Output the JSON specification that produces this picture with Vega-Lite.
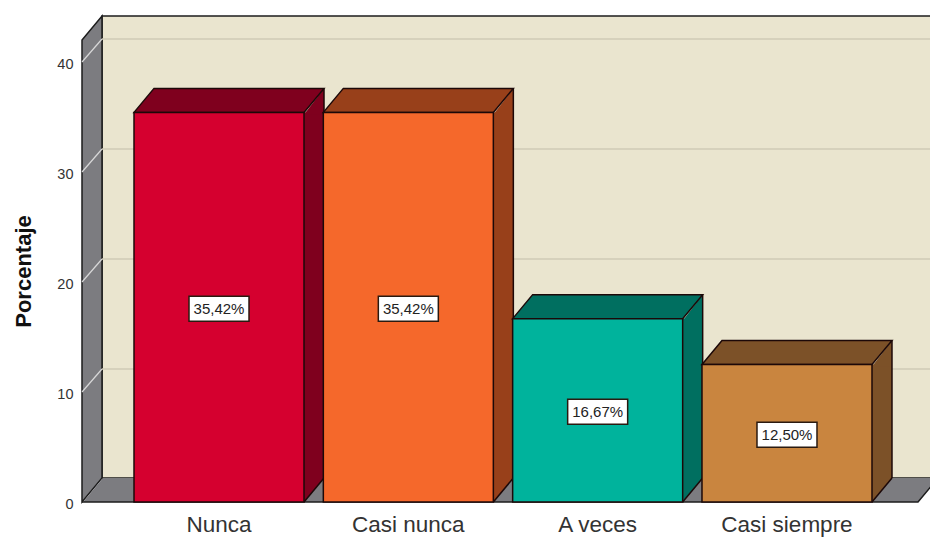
{
"$schema":"https://vega.github.io/schema/vega-lite/v6.json",
"width":836,"height":462,
"autosize":{"type":"none"},
"padding":{"left":82,"top":40,"right":12,"bottom":36},
"background":"white",
"config":{"view":{"stroke":null},"font":"Liberation Sans"},
"datasets":{
"bars":[
{"categoria":"Nunca","porcentaje":35.42,"etiqueta":"35,42%"},
{"categoria":"Casi nunca","porcentaje":35.42,"etiqueta":"35,42%"},
{"categoria":"A veces","porcentaje":16.67,"etiqueta":"16,67%"},
{"categoria":"Casi siempre","porcentaje":12.5,"etiqueta":"12,50%"}
],
"base":[{"nivel":0}],
"rejilla":[{"nivel":10},{"nivel":20},{"nivel":30},{"nivel":40}]
},
"data":{"name":"bars"},
"transform":[{"calculate":"datum.porcentaje/2","as":"medio"}],
"layer":[
{"data":{"name":"base"},
 "mark":{"type":"point","filled":true,"opacity":1,"size":4,"fill":"#EAE5CF","stroke":"#1c1c1c","strokeWidth":1.5,"shape":"M20 -24 L860 -24 L860 -486 L20 -486 Z"},
 "encoding":{"x":{"value":0},"y":{"field":"nivel","type":"quantitative","scale":{"domain":[0,42],"nice":false,"zero":false},"axis":{"values":[0,10,20,30,40],"title":"Porcentaje","titleFontSize":22,"titleFontWeight":"bold","titleColor":"#111","titlePadding":21,"labelFontSize":14.5,"labelColor":"#333","labelPadding":9,"labelOffset":2.5,"ticks":false,"domain":false,"grid":false,"labelOverlap":false}}}},
{"data":{"name":"base"},
 "mark":{"type":"point","filled":true,"opacity":1,"size":4,"fill":"#7C7C80","stroke":"#1c1c1c","strokeWidth":1.5,"shape":"M0 0 L20 -24 L20 -486 L0 -462 Z"},
 "encoding":{"x":{"value":0},"y":{"field":"nivel","type":"quantitative"}}},
{"data":{"name":"base"},
 "mark":{"type":"point","filled":true,"opacity":1,"size":4,"fill":"#7C7C80","strokeWidth":0,"shape":"M1 0 L21 -24 L856 -24 L836 0 Z"},
 "encoding":{"x":{"value":0},"y":{"field":"nivel","type":"quantitative"}}},
{"data":{"name":"base"},
 "mark":{"type":"point","filled":false,"opacity":1,"size":4,"stroke":"#1c1c1c","strokeWidth":1.5,"shape":"M0 0 L836 0 L856 -24"},
 "encoding":{"x":{"value":0},"y":{"field":"nivel","type":"quantitative"}}},
{"data":{"name":"rejilla"},
 "mark":{"type":"point","filled":false,"opacity":1,"size":4,"stroke":"#CFCAB6","strokeWidth":1.6,"shape":"M20 -23 L860 -23"},
 "encoding":{"x":{"value":0},"y":{"field":"nivel","type":"quantitative"}}},
{"data":{"name":"rejilla"},
 "mark":{"type":"point","filled":false,"opacity":1,"size":4,"stroke":"#D8D8D8","strokeWidth":1.2,"shape":"M0 0 L20 -23"},
 "encoding":{"x":{"value":0},"y":{"field":"nivel","type":"quantitative"}}},
{"mark":{"type":"bar","width":20,"xOffset":95,"y2Offset":-24},
 "encoding":{
  "x":{"field":"categoria","type":"nominal","sort":null,"scale":{"type":"band","range":[52,790],"paddingInner":0.102,"paddingOuter":0},"axis":{"title":null,"labelAngle":0,"labelFontSize":22.5,"labelColor":"#333","labelPadding":11,"ticks":false,"domain":false,"grid":false}},
  "y":{"field":"porcentaje","type":"quantitative"},
  "y2":{"datum":0},
  "fill":{"field":"categoria","type":"nominal","sort":null,"legend":null,"scale":{"domain":["Nunca","Casi nunca","A veces","Casi siempre"],"range":["#7F001E","#98401A","#006F60","#7C5128"]}}}},
{"mark":{"type":"point","filled":true,"opacity":1,"size":4,"strokeWidth":0,"shape":"M85 2 L105 -24 L105 2 Z"},
 "encoding":{"x":{"field":"categoria","type":"nominal","sort":null},"y":{"field":"porcentaje","type":"quantitative"},"fill":{"field":"categoria","type":"nominal","sort":null,"legend":null}}},
{"mark":{"type":"point","filled":true,"opacity":1,"size":4,"strokeWidth":0,"shape":"M85 0 L105 -24 L105 -26 L85 -26 Z"},
 "encoding":{"x":{"field":"categoria","type":"nominal","sort":null},"y":{"datum":0},"fill":{"field":"categoria","type":"nominal","sort":null,"legend":null}}},
{"mark":{"type":"point","filled":false,"opacity":1,"size":4,"stroke":"#1c0808","strokeWidth":1.5,"shape":"M85 0 L105 -24"},
 "encoding":{"x":{"field":"categoria","type":"nominal","sort":null},"y":{"datum":0}}},
{"mark":{"type":"rule","color":"#1c0808","strokeWidth":1.5,"xOffset":105,"yOffset":-24,"y2Offset":-24},
 "encoding":{"x":{"field":"categoria","type":"nominal","sort":null},"y":{"field":"porcentaje","type":"quantitative"},"y2":{"datum":0}}},
{"mark":{"type":"point","filled":true,"opacity":1,"size":4,"stroke":"#1c0808","strokeWidth":1.5,"shape":"M-85 0 L85 0 L105 -24 L-65 -24 Z"},
 "encoding":{"x":{"field":"categoria","type":"nominal","sort":null},"y":{"field":"porcentaje","type":"quantitative"},"fill":{"field":"categoria","type":"nominal","sort":null,"legend":null}}},
{"mark":{"type":"bar","stroke":"#1c0808","strokeWidth":1.5},
 "encoding":{
  "x":{"field":"categoria","type":"nominal","sort":null},
  "y":{"field":"porcentaje","type":"quantitative"},
  "color":{"field":"categoria","type":"nominal","sort":null,"legend":null,"scale":{"domain":["Nunca","Casi nunca","A veces","Casi siempre"],"range":["#D5002F","#F5682B","#00B39C","#C9853F"]}}}},
{"mark":{"type":"point","filled":true,"opacity":1,"size":4,"fill":"white","stroke":"#2a1a10","strokeWidth":1.5,"shape":"M-30 -11 L30 -11 L30 14 L-30 14 Z"},
 "encoding":{"x":{"field":"categoria","type":"nominal","sort":null},"y":{"field":"medio","type":"quantitative"}}},
{"mark":{"type":"text","fontSize":15,"color":"#222","baseline":"middle","dy":2},
 "encoding":{"x":{"field":"categoria","type":"nominal","sort":null},"y":{"field":"medio","type":"quantitative"},"text":{"field":"etiqueta"}}}
]
}
